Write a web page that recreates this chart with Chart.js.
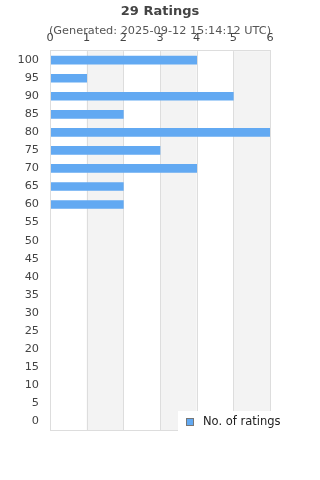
<!DOCTYPE html>
<html>
<head>
<meta charset="utf-8">
<script src="https://cdn.jsdelivr.net/npm/chart.js@4"></script>
<style>
html,body{margin:0;padding:0;background:#fff;}
#wrap{width:320px;height:480px;}
</style>
</head>
<body>
<div id="wrap"><canvas id="c" width="320" height="480"></canvas></div>
<script>
const categories = ['100','95','90','85','80','75','70','65','60','55','50','45','40','35','30','25','20','15','10','5','0'];
const ratingCounts = [4,1,5,2,6,3,4,2,2,0,0,0,0,0,0,0,0,0,0,0,0];
const xTicks = [0,1,2,3,4,5,6];
const seriesLabel = 'No. of ratings';
const titleText = '29 Ratings';
const subtitleText = '(Generated: 2025-09-12 15:14:12 UTC)';

const FONT = "'DejaVu Sans', sans-serif";
const BAR = '#62a9f2';

const decor = {
  id: 'decor',
  beforeDatasetsDraw(chart) {
    const {ctx, chartArea: a, scales: {x}} = chart;
    ctx.save();
    ctx.fillStyle = '#f3f3f3';
    for (let i = 1; i < xTicks.length - 1; i += 2) {
      const l = x.getPixelForValue(xTicks[i]);
      const r = x.getPixelForValue(xTicks[i + 1]);
      ctx.fillRect(l, a.top, r - l, a.bottom - a.top);
    }
    ctx.strokeStyle = '#dddddd';
    ctx.lineWidth = 1;
    for (const t of xTicks) {
      const px = Math.round(x.getPixelForValue(t)) + 0.5;
      ctx.beginPath(); ctx.moveTo(px, a.top); ctx.lineTo(px, a.bottom); ctx.stroke();
    }
    ctx.restore();
  },
  afterDatasetsDraw(chart) {
    const {ctx, chartArea: a} = chart;
    ctx.save();
    ctx.strokeStyle = '#dddddd';
    ctx.lineWidth = 1;
    ctx.strokeRect(Math.round(a.left) + 0.5, Math.round(a.top) - 0.5, Math.round(a.right - a.left), Math.round(a.bottom - a.top) + 1);
    ctx.restore();
  },
  afterDraw(chart) {
    const {ctx, chartArea: a} = chart;
    const ds = chart.data.datasets[0];
    ctx.save();
    ctx.fillStyle = '#ffffff';
    ctx.fillRect(178, a.bottom - 19, 320 - 178, 21);
    ctx.fillStyle = BAR;
    ctx.fillRect(186.5, a.bottom - 11.5, 7, 7);
    ctx.strokeStyle = '#777777';
    ctx.lineWidth = 1;
    ctx.strokeRect(186.5, a.bottom - 11.5, 7, 7);
    ctx.fillStyle = '#222222';
    ctx.font = "11.5px " + FONT;
    ctx.textBaseline = 'middle';
    ctx.textAlign = 'left';
    ctx.fillText(ds.label, 203, a.bottom - 8);
    ctx.restore();
  }
};

new Chart(document.getElementById('c'), {
  type: 'bar',
  data: {
    labels: categories,
    datasets: [{
      label: seriesLabel,
      data: ratingCounts,
      backgroundColor: (c) => (c.raw ? BAR : 'rgba(0,0,0,0)'),
      borderWidth: 0,
      barThickness: 8
    }]
  },
  options: {
    indexAxis: 'y',
    responsive: false,
    animation: false,
    devicePixelRatio: 1,
    layout: {padding: {left: 0, right: 0, top: 0, bottom: 50}},
    plugins: {
      legend: {display: false},
      tooltip: {enabled: false},
      title: {
        display: true, text: titleText, color: '#444444',
        font: {family: FONT, size: 13, weight: 'bold'},
        padding: {top: 4, bottom: 4}
      },
      subtitle: {
        display: true, text: subtitleText, color: '#555555',
        font: {family: FONT, size: 11.3},
        padding: {top: 1, bottom: -7}
      }
    },
    scales: {
      x: {
        position: 'top', min: 0, max: 6,
        afterBuildTicks(s) { s.ticks = xTicks.map(v => ({value: v})); },
        afterFit(s) { s.height = 20; },
        grid: {display: false, drawTicks: false},
        border: {display: false},
        ticks: {color: '#444444', font: {family: FONT, size: 11.3}, padding: 6}
      },
      y: {
        afterFit(s) { s.width = 50; },
        grid: {display: false, drawTicks: false},
        border: {display: false},
        ticks: {color: '#444444', font: {family: FONT, size: 11.3}, padding: 11, autoSkip: false}
      },
      yRight: {
        position: 'right', type: 'category',
        afterFit(s) { s.width = 50; },
        grid: {display: false, drawTicks: false},
        border: {display: false},
        ticks: {display: false}
      }
    }
  },
  plugins: [decor]
});
</script>
</body>
</html>
